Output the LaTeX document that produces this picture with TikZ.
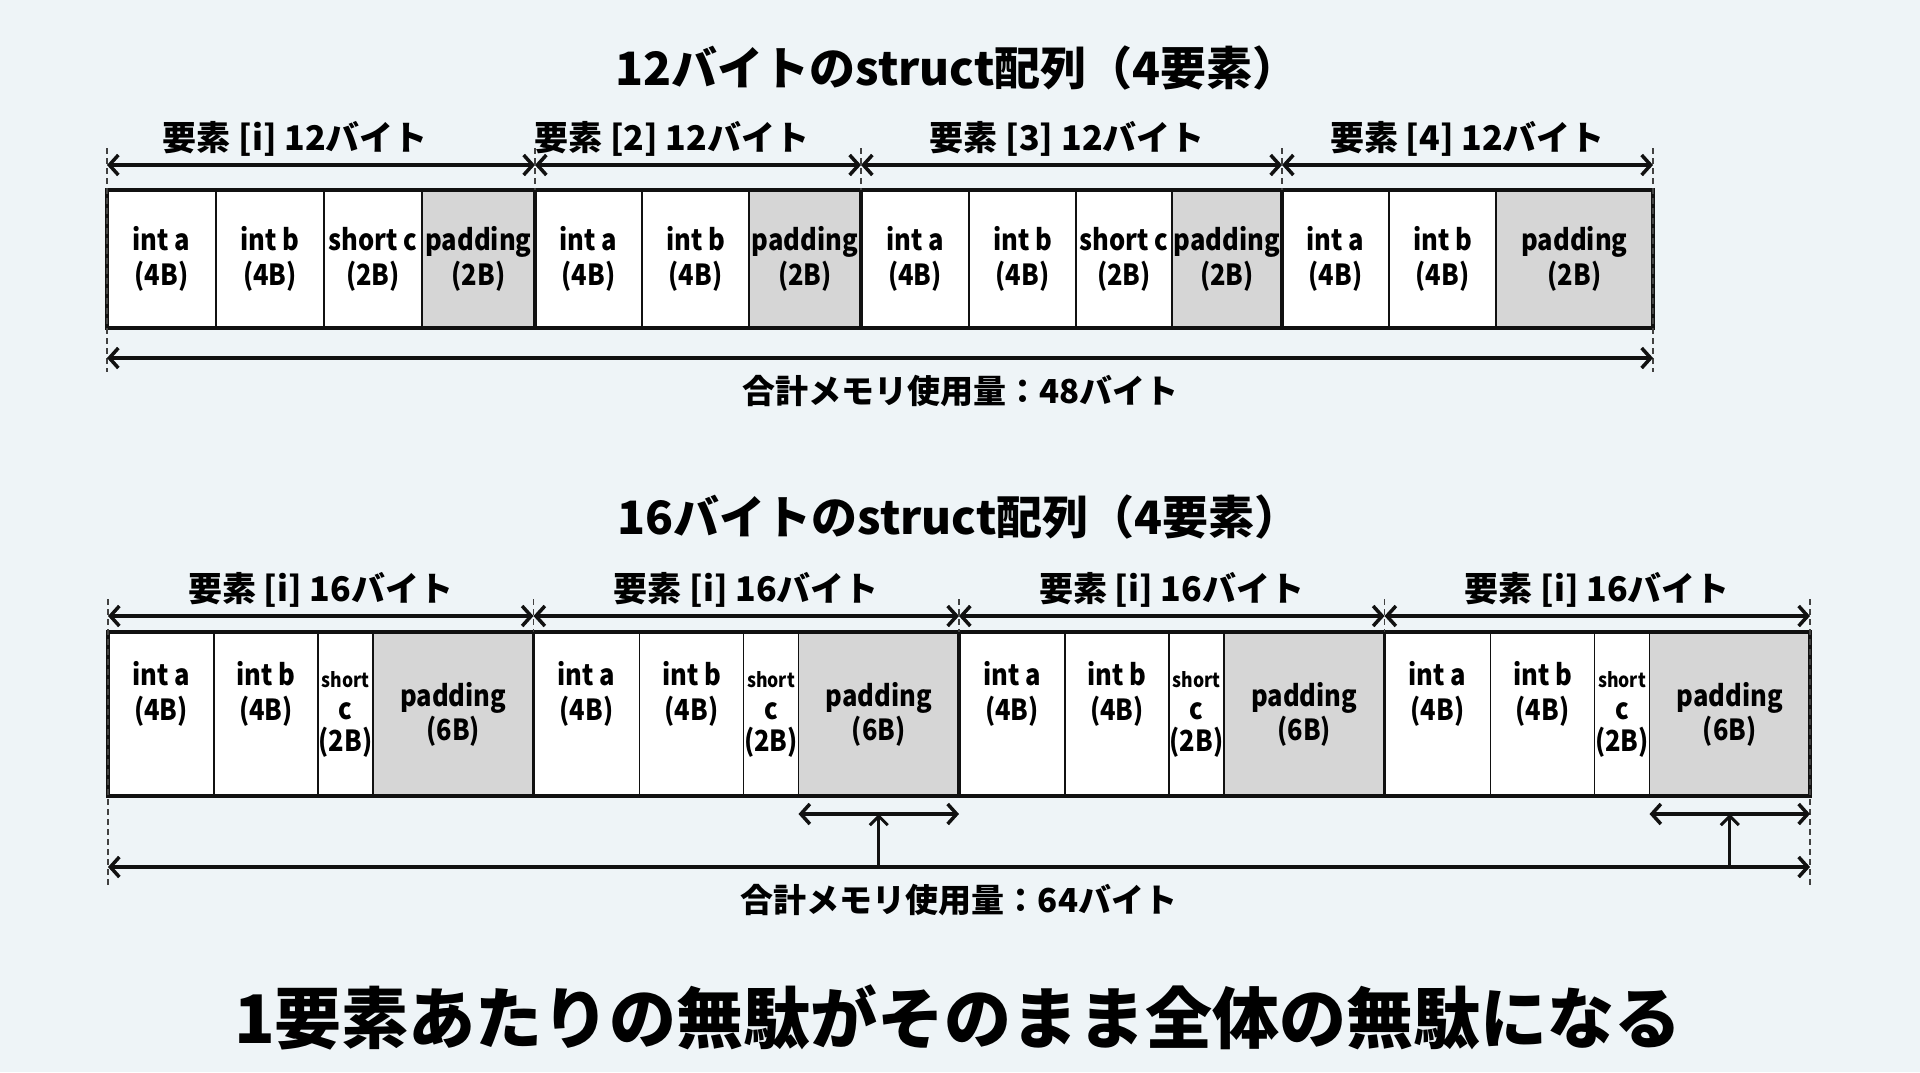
\documentclass[tikz,border=0pt]{standalone}
\usepackage{fontspec}
\setmainfont{Noto Sans CJK JP}
\newfontfamily\cellfont{Noto Sans CJK JP}[FakeStretch=0.88]
\usetikzlibrary{positioning,arrows.meta}
\definecolor{bgcol}{RGB}{238,244,247}
\definecolor{padgray}{RGB}{214,214,214}
\definecolor{inkcol}{RGB}{17,17,17}
\newcommand{\fsz}[2]{\fontsize{#1}{#2}\selectfont\bfseries}
\tikzset{
    cell/.style={draw=inkcol, line width=1.2pt, fill=white, inner sep=0pt, outer sep=0pt, align=center, font=\cellfont\fsz{29}{35}},
    cellT/.style={cell, minimum height=138pt},
    cellB/.style={cell, minimum height=164pt},
    padT/.style={cellT, fill=padgray},
    padB/.style={cellB, fill=padgray, font=\cellfont\fsz{29}{34}},
    shortB/.style={cellB, font=\cellfont\fsz{29}{32}},
    boxframe/.style={draw=inkcol, line width=4pt},
    elsep/.style={draw=inkcol, line width=3.2pt},
    dim/.style={draw=inkcol, line width=3.5pt, {Straight Barb[length=9pt,width=20pt]}-{Straight Barb[length=9pt,width=20pt]}},
    uparrow/.style={draw=inkcol, line width=3pt, -{Straight Barb[length=9pt,width=18pt]}},
    guide/.style={draw=inkcol!80, line width=1.2pt, dash pattern=on 6pt off 4pt},
    heading/.style={font=\fsz{46}{50}, inner sep=0pt},
    elab/.style={font=\fsz{34}{40}, inner sep=0pt, above=7pt},
    sumlab/.style={font=\fsz{33}{40}, inner sep=0pt, below=15pt},
    node distance=0pt
}

\begin{document}
\begin{tikzpicture}[x=1pt,y=-1pt]
    \fill[bgcol] (0,0) rectangle (1920,1072);
    \useasboundingbox (0,0) rectangle (1920,1072);

    % 12 byte struct
    \node[heading] (head1) at (957,68) {12バイトのstruct配列（4要素）};

    \node[cellT, minimum width=109pt, anchor=north west] (t1) at (107,190) {int a\\(4B)};
    \node[cellT, minimum width=108pt, right=of t1] (t2) {int b\\(4B)};
    \node[cellT, minimum width=98pt, right=of t2] (t3) {short c\\(2B)};
    \node[padT, minimum width=113pt, right=of t3] (t4) {padding\\(2B)};
    \node[cellT, minimum width=107pt, right=of t4] (t5) {int a\\(4B)};
    \node[cellT, minimum width=107pt, right=of t5] (t6) {int b\\(4B)};
    \node[padT, minimum width=112pt, right=of t6] (t7) {padding\\(2B)};
    \node[cellT, minimum width=108pt, right=of t7] (t8) {int a\\(4B)};
    \node[cellT, minimum width=107pt, right=of t8] (t9) {int b\\(4B)};
    \node[cellT, minimum width=96pt, right=of t9] (t10) {short c\\(2B)};
    \node[padT, minimum width=110pt, right=of t10] (t11) {padding\\(2B)};
    \node[cellT, minimum width=107pt, right=of t11] (t12) {int a\\(4B)};
    \node[cellT, minimum width=107pt, right=of t12] (t13) {int b\\(4B)};
    \node[padT, minimum width=157pt, right=of t13] (t14) {padding\\(2B)};

    \draw[boxframe] (t1.north west) rectangle (t14.south east);
    \draw[elsep] (t4.north east) -- (t4.south east);
    \draw[elsep] (t7.north east) -- (t7.south east);
    \draw[elsep] (t11.north east) -- (t11.south east);

    \draw[guide] ([yshift=42pt]t1.north west) -- ([yshift=-44pt]t1.south west);
    \draw[guide] ([yshift=42pt]t4.north east) -- (t4.north east);
    \draw[guide] ([yshift=42pt]t7.north east) -- (t7.north east);
    \draw[guide] ([yshift=42pt]t11.north east) -- (t11.north east);
    \draw[guide] ([yshift=42pt]t14.north east) -- ([yshift=-44pt]t14.south east);

    \coordinate (ta0) at ([yshift=25pt]t1.north west);
    \coordinate (ta1) at ([yshift=25pt]t4.north east);
    \coordinate (ta2) at ([yshift=25pt]t7.north east);
    \coordinate (ta3) at ([yshift=25pt]t11.north east);
    \coordinate (ta4) at ([yshift=25pt]t14.north east);
    \draw[dim] (ta0) -- node[elab, pos=0.44] (tl1) {要素 [i] 12バイト} (ta1);
    \draw[dim] (ta1) -- node[elab, pos=0.42] (tl2) {要素 [2] 12バイト} (ta2);
    \draw[dim] (ta2) -- node[elab, pos=0.49] (tl3) {要素 [3] 12バイト} (ta3);
    \draw[dim] (ta3) -- node[elab] (tl4) {要素 [4] 12バイト} (ta4);

    \coordinate (tt0) at ([yshift=-30pt]t1.south west);
    \coordinate (tt1) at ([yshift=-30pt]t14.south east);
    \draw[dim] (tt0) -- node[sumlab, pos=0.552] (tsum) {合計メモリ使用量：48バイト} (tt1);

    % 16 byte struct
    \node[heading] (head2) at (959,517) {16バイトのstruct配列（4要素）};

    \node[cellB, minimum width=106pt, anchor=north west] (b1) at (108,632) {int a\\(4B)\\\strut};
    \node[cellB, minimum width=104pt, right=of b1] (b2) {int b\\(4B)\\\strut};
    \node[shortB, minimum width=55pt, right=of b2] (b3) {{\fsz{20}{24}short}\\c\\(2B)};
    \node[padB, minimum width=160.5pt, right=of b3] (b4) {padding\\(6B)};
    \node[cellB, minimum width=106pt, right=of b4] (b5) {int a\\(4B)\\\strut};
    \node[cellB, minimum width=104pt, right=of b5] (b6) {int b\\(4B)\\\strut};
    \node[shortB, minimum width=55pt, right=of b6] (b7) {{\fsz{20}{24}short}\\c\\(2B)};
    \node[padB, minimum width=160.5pt, right=of b7] (b8) {padding\\(6B)};
    \node[cellB, minimum width=106pt, right=of b8] (b9) {int a\\(4B)\\\strut};
    \node[cellB, minimum width=104pt, right=of b9] (b10) {int b\\(4B)\\\strut};
    \node[shortB, minimum width=55pt, right=of b10] (b11) {{\fsz{20}{24}short}\\c\\(2B)};
    \node[padB, minimum width=160.5pt, right=of b11] (b12) {padding\\(6B)};
    \node[cellB, minimum width=106pt, right=of b12] (b13) {int a\\(4B)\\\strut};
    \node[cellB, minimum width=104pt, right=of b13] (b14) {int b\\(4B)\\\strut};
    \node[shortB, minimum width=55pt, right=of b14] (b15) {{\fsz{20}{24}short}\\c\\(2B)};
    \node[padB, minimum width=160.5pt, right=of b15] (b16) {padding\\(6B)};

    \draw[boxframe] (b1.north west) rectangle (b16.south east);
    \draw[elsep] (b4.north east) -- (b4.south east);
    \draw[elsep] (b8.north east) -- (b8.south east);
    \draw[elsep] (b12.north east) -- (b12.south east);

    \draw[guide] ([yshift=33pt]b1.north west) -- ([yshift=-92pt]b1.south west);
    \draw[guide] ([yshift=33pt]b4.north east) -- (b4.north east);
    \draw[guide] ([yshift=33pt]b8.north east) -- (b8.north east);
    \draw[guide] ([yshift=33pt]b12.north east) -- (b12.north east);
    \draw[guide] ([yshift=33pt]b16.north east) -- ([yshift=-92pt]b16.south east);

    \coordinate (ba0) at ([yshift=16pt]b1.north west);
    \coordinate (ba1) at ([yshift=16pt]b4.north east);
    \coordinate (ba2) at ([yshift=16pt]b8.north east);
    \coordinate (ba3) at ([yshift=16pt]b12.north east);
    \coordinate (ba4) at ([yshift=16pt]b16.north east);
    \draw[dim] (ba0) -- node[elab] (bl1) {要素 [i] 16バイト} (ba1);
    \draw[dim] (ba1) -- node[elab] (bl2) {要素 [i] 16バイト} (ba2);
    \draw[dim] (ba2) -- node[elab] (bl3) {要素 [i] 16バイト} (ba3);
    \draw[dim] (ba3) -- node[elab] (bl4) {要素 [i] 16バイト} (ba4);

    % wasted padding
    \coordinate (w2a) at ([yshift=-18pt]b8.south west);
    \coordinate (w2b) at ([yshift=-18pt]b8.south east);
    \coordinate (w4a) at ([yshift=-18pt]b16.south west);
    \coordinate (w4b) at ([yshift=-18pt]b16.south east);
    \draw[dim] (w2a) -- coordinate (w2m) (w2b);
    \draw[dim] (w4a) -- coordinate (w4m) (w4b);

    \coordinate (bt0) at ([yshift=-71pt]b1.south west);
    \coordinate (bt1) at ([yshift=-71pt]b16.south east);
    \draw[dim] (bt0) -- node[sumlab] (bsum) {合計メモリ使用量：64バイト} (bt1);
    \draw[uparrow] (w2m |- bt0) -- (w2m);
    \draw[uparrow] (w4m |- bt0) -- (w4m);

    \node[font=\fsz{67}{76}, inner sep=0pt] (moral) at (958,1017) {1要素あたりの無駄がそのまま全体の無駄になる};
\end{tikzpicture}
\end{document}
